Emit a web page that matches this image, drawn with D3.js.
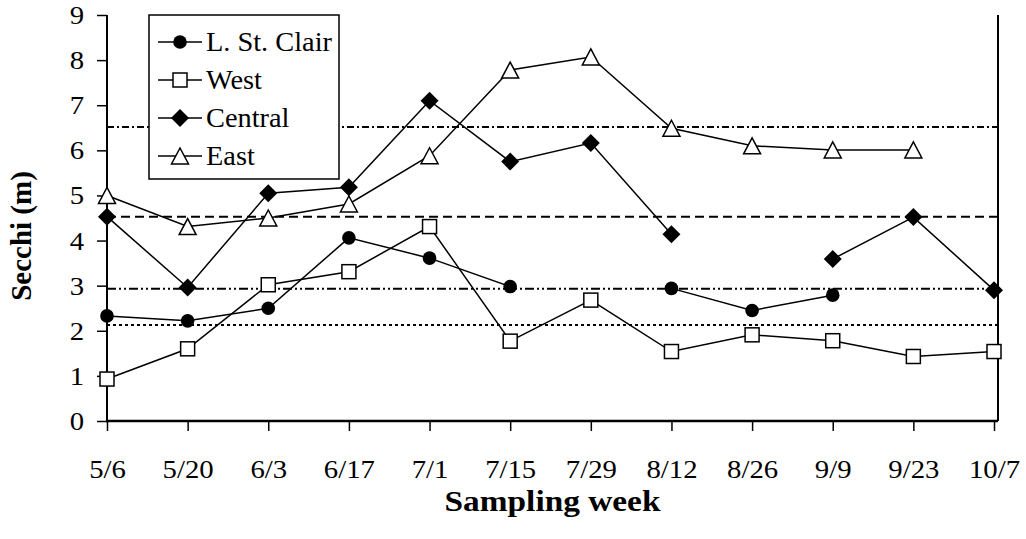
<!DOCTYPE html>
<html>
<head>
<meta charset="utf-8">
<script src="https://cdn.jsdelivr.net/npm/d3@7"></script>
<style>
  html, body { margin: 0; padding: 0; background: #fff; }
  svg { display: block; }
  text { font-family: "Liberation Serif", "Times New Roman", serif; fill: #000; }
</style>
</head>
<body>
<svg id="chart" width="1026" height="539"></svg>
<script>
// ---------- data ----------
const categories = ["5/6","5/20","6/3","6/17","7/1","7/15","7/29","8/12","8/26","9/9","9/23","10/7"];
const stClair = [2.33, 2.22, 2.50, 4.06, 3.61, 2.98, null, 2.94, 2.45, 2.79, null, null];
const west    = [0.93, 1.60, 3.02, 3.31, 4.31, 1.77, 2.68, 1.54, 1.91, 1.78, 1.43, 1.54];
const central = [4.53, 2.96, 5.05, 5.18, 7.10, 5.75, 6.16, 4.14, null, 3.59, 4.52, 2.90];
const east    = [5.00, 4.31, 4.50, 4.81, 5.88, 7.78, 8.07, 6.49, 6.10, 6.01, 6.01, null];
const seriesNames = ["L. St. Clair", "West", "Central", "East"];
const refValues = [6.52, 4.53, 2.93, 2.13];
const yTicks = [0,1,2,3,4,5,6,7,8,9];
const xTitle = "Sampling week";
const yTitle = "Secchi (m)";

// ---------- layout ----------
const svg = d3.select("#chart");
const mLeft = 107, mRight = 994, mTop = 15, mBottom = 421;
const sx = 1.15; // horizontal stretch of the original text

const x = d3.scalePoint().domain(categories).range([mLeft, mRight]);
const y = d3.scaleLinear().domain([0, 9]).range([mBottom, mTop]);

// reference lines
const refDash = ["7,3,2,3", "9,5", "9,3,2,3,2,3", "3,3"];
svg.append("g").selectAll("line").data(refValues).join("line")
  .attr("x1", mLeft).attr("x2", mRight + 3)
  .attr("y1", d => y(d)).attr("y2", d => y(d))
  .attr("stroke", "#000").attr("stroke-width", 2)
  .attr("stroke-dasharray", (d, i) => refDash[i]);

// axes
const yAxis = svg.append("g").attr("transform", `translate(${mLeft},0)`)
  .call(d3.axisLeft(y).tickValues(yTicks).tickSizeInner(10).tickSizeOuter(0).tickPadding(10));
yAxis.select(".domain").remove();
yAxis.selectAll(".tick line").attr("stroke-width", 1.5);
yAxis.selectAll(".tick text")
  .attr("font-size", 25)
  .attr("dy", "0.34em")
  .attr("transform", `scale(${sx},1)`);

const xAxis = svg.append("g").attr("transform", `translate(0,${mBottom})`)
  .call(d3.axisBottom(x).tickSizeInner(10).tickSizeOuter(0).tickPadding(0));
xAxis.select(".domain").remove();
xAxis.selectAll(".tick line").attr("stroke-width", 1.5);
xAxis.selectAll(".tick text")
  .attr("font-size", 25)
  .attr("y", 57).attr("dy", 0)
  .attr("transform", `scale(${sx},1)`);

// axis lines
svg.append("line").attr("x1", mLeft).attr("x2", mLeft).attr("y1", mTop).attr("y2", mBottom)
  .attr("stroke", "#000").attr("stroke-width", 2);
svg.append("line").attr("x1", mLeft - 1).attr("x2", mRight + 4).attr("y1", mBottom).attr("y2", mBottom)
  .attr("stroke", "#000").attr("stroke-width", 2.5);
svg.append("line").attr("x1", mRight + 4).attr("x2", mRight + 4).attr("y1", mTop).attr("y2", mBottom)
  .attr("stroke", "#000").attr("stroke-width", 2);

// axis titles
svg.append("text")
  .attr("transform", `translate(${(mLeft + mRight) / 2 + 2},511) scale(${sx},1)`)
  .attr("text-anchor", "middle").attr("font-weight", "bold").attr("font-size", 29)
  .text(xTitle);
svg.append("text")
  .attr("transform", `translate(31,${(mTop + mBottom) / 2 + 18}) rotate(-90)`)
  .attr("text-anchor", "middle").attr("font-weight", "bold").attr("font-size", 29)
  .text(yTitle);

// marker drawers
function drawMarker(g, type) {
  if (type === "circle") {
    g.append("circle").attr("r", 6.8).attr("fill", "#000");
  } else if (type === "square") {
    g.append("rect").attr("x", -7).attr("y", -7).attr("width", 14).attr("height", 14)
      .attr("fill", "#fff").attr("stroke", "#000").attr("stroke-width", 1.5);
  } else if (type === "diamond") {
    g.append("path").attr("d", "M0,-9L9,0L0,9L-9,0Z").attr("fill", "#000");
  } else if (type === "triangle") {
    g.append("path").attr("d", "M0,-8L8.5,8L-8.5,8Z")
      .attr("fill", "#fff").attr("stroke", "#000").attr("stroke-width", 1.5);
  }
}

const series = [
  { name: seriesNames[0], values: stClair, marker: "circle" },
  { name: seriesNames[1], values: west,    marker: "square" },
  { name: seriesNames[2], values: central, marker: "diamond" },
  { name: seriesNames[3], values: east,    marker: "triangle" }
];

const line = d3.line()
  .defined(d => d.v !== null)
  .x(d => x(d.c)).y(d => y(d.v));

series.forEach(s => {
  const pts = categories.map((c, i) => ({ c, v: s.values[i] }));
  svg.append("path").datum(pts)
    .attr("d", line).attr("fill", "none")
    .attr("stroke", "#000").attr("stroke-width", 1.5);
  pts.filter(d => d.v !== null).forEach(d => {
    const g = svg.append("g").attr("transform", `translate(${x(d.c)},${y(d.v)})`);
    drawMarker(g, s.marker);
  });
});

// legend
const lg = svg.append("g");
lg.append("rect").attr("x", 149).attr("y", 15).attr("width", 190).attr("height", 164)
  .attr("fill", "#fff").attr("stroke", "#000").attr("stroke-width", 1.5);
const rowY = [42, 80, 118, 156];
series.forEach((s, i) => {
  const ry = rowY[i];
  lg.append("line").attr("x1", 158).attr("x2", 202).attr("y1", ry).attr("y2", ry)
    .attr("stroke", "#000").attr("stroke-width", 1.5);
  const g = lg.append("g").attr("transform", `translate(180,${ry})`);
  drawMarker(g, s.marker);
  lg.append("text")
    .attr("transform", `translate(206,${ry + 9}) scale(1.05,1)`)
    .attr("font-size", 27)
    .text(s.name);
});
</script>
</body>
</html>
